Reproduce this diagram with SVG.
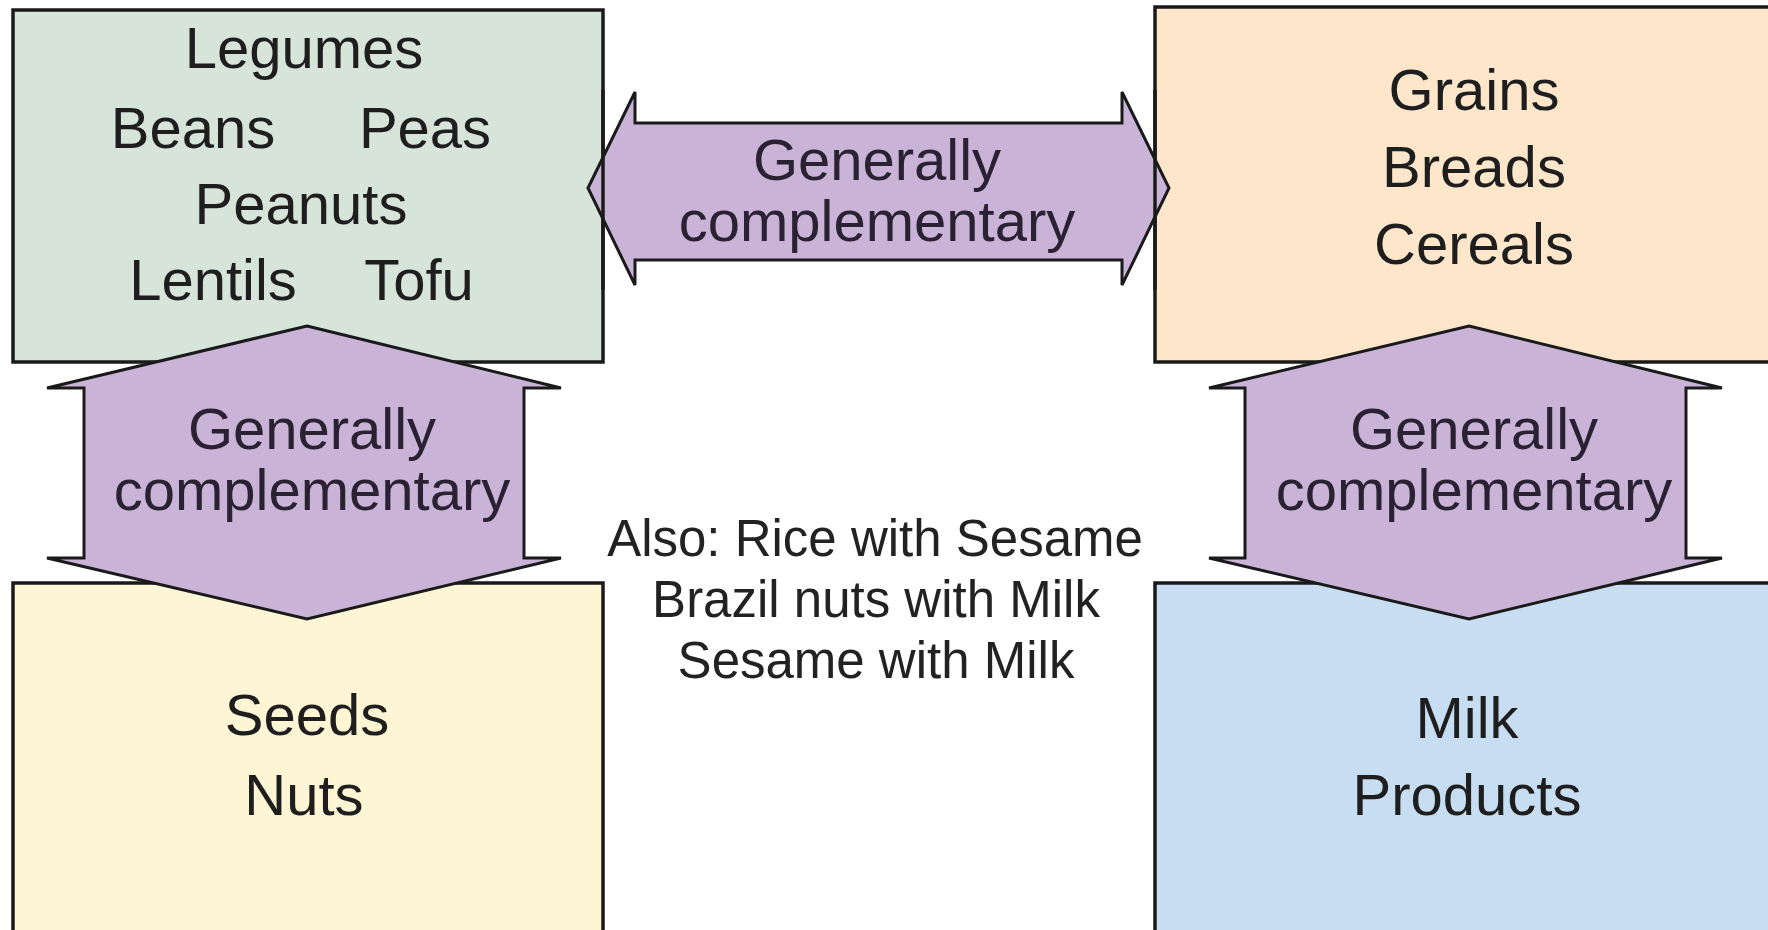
<svg xmlns="http://www.w3.org/2000/svg" width="1768" height="930" viewBox="0 0 1768 930">
<style>
.box{stroke:#1a1a1a;stroke-width:3.5}
.arr{fill:#c9b4d8;stroke:#1a1a1a;stroke-width:3;stroke-linejoin:miter}
.t{font-family:"Liberation Sans",Arial,sans-serif;font-size:58px;fill:#1e1e1e;text-anchor:middle}
.a{font-family:"Liberation Sans",Arial,sans-serif;font-size:58px;fill:#2a2232;text-anchor:middle}
.m{font-family:"Liberation Sans",Arial,sans-serif;font-size:51px;fill:#222;text-anchor:middle}
</style>
<rect width="1768" height="930" fill="#ffffff"/>
<g id="legumes">
<rect class="box" x="13" y="10" width="590" height="352" fill="#d6e4d9"/>
<text class="t" x="304" y="68">Legumes</text>
<text class="t" x="193" y="148">Beans</text>
<text class="t" x="425" y="148">Peas</text>
<text class="t" x="301" y="224">Peanuts</text>
<text class="t" x="213" y="300">Lentils</text>
<text class="t" x="419" y="300">Tofu</text>
</g>
<g id="grains">
<rect class="box" x="1155" y="7" width="630" height="355" fill="#fde6ca"/>
<text class="t" x="1474" y="110">Grains</text>
<text class="t" x="1474" y="187">Breads</text>
<text class="t" x="1474" y="264">Cereals</text>
</g>
<g id="seeds">
<rect class="box" x="13" y="583" width="590" height="370" fill="#fef5d4"/>
<text class="t" x="307" y="735">Seeds</text>
<text class="t" x="304" y="815">Nuts</text>
</g>
<g id="milk">
<rect class="box" x="1155" y="583" width="630" height="370" fill="#c7ddf1"/>
<text class="t" x="1467" y="738">Milk</text>
<text class="t" x="1467" y="815">Products</text>
</g>
<g id="connectors">
<g id="arrow-legumes-grains">
<polygon class="arr" points="588,188 635,92 635,123 1122,123 1122,92 1169,188 1122,285 1122,260 635,260 635,285"/>
<text class="a" x="877" y="180">Generally</text>
<text class="a" x="877" y="241">complementary</text>
</g>
<g id="arrow-legumes-seeds">
<polygon class="arr" points="307,326 561,388 524,388 524,558 561,558 307,619 47,558 84,558 84,388 47,388"/>
<text class="a" x="312" y="449">Generally</text>
<text class="a" x="312" y="510">complementary</text>
</g>
<g id="arrow-grains-milk">
<polygon class="arr" points="1469,326 1722,388 1686,388 1686,558 1722,558 1469,619 1209,558 1245,558 1245,388 1209,388"/>
<text class="a" x="1474" y="449">Generally</text>
<text class="a" x="1474" y="510">complementary</text>
</g>
</g>
<g id="box-edges" stroke="#1a1a1a" stroke-width="3.5">
<line x1="603" y1="90" x2="603" y2="290"/>
<line x1="1155" y1="90" x2="1155" y2="290"/>
</g>
<g id="note">
<text class="m" x="875" y="556">Also: Rice with Sesame</text>
<text class="m" x="876" y="617">Brazil nuts with Milk</text>
<text class="m" x="876" y="678">Sesame with Milk</text>
</g>
</svg>
